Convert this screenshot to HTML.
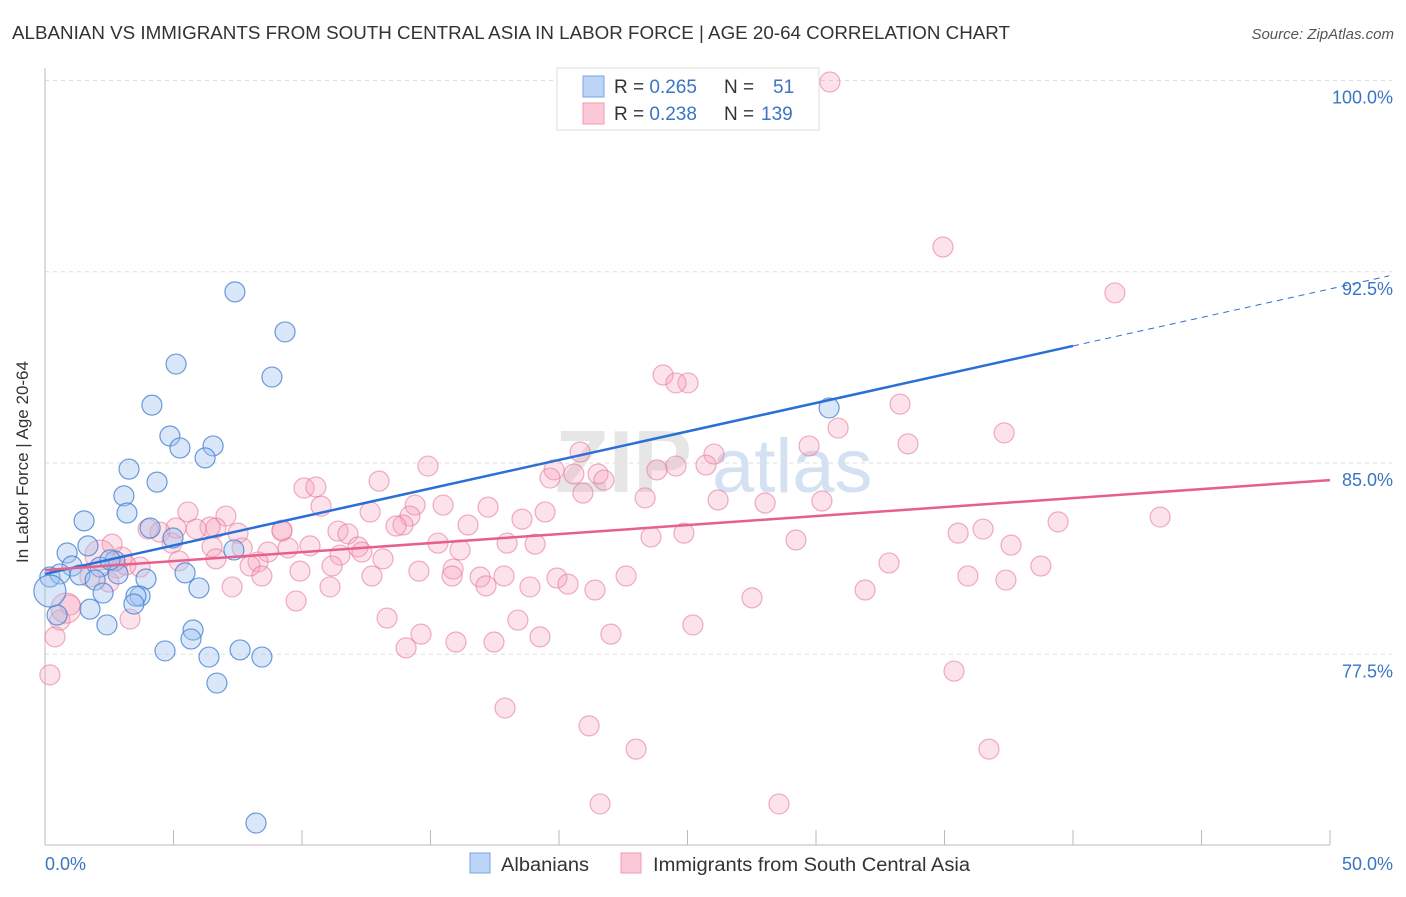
<!DOCTYPE html>
<html><head><meta charset="utf-8"><style>
body{margin:0;background:#fff;font-family:"Liberation Sans",sans-serif;}
svg text{font-family:"Liberation Sans",sans-serif;}
</style></head><body>
<svg id="chart" width="1406" height="892" xmlns="http://www.w3.org/2000/svg">
<text x="12" y="39" font-size="18" fill="#333" textLength="998" lengthAdjust="spacingAndGlyphs">ALBANIAN VS IMMIGRANTS FROM SOUTH CENTRAL ASIA IN LABOR FORCE | AGE 20-64 CORRELATION CHART</text>
<text x="1394" y="39" font-size="15" fill="#555" text-anchor="end" font-style="italic">Source: ZipAtlas.com</text>
<g id="grid"></g>
<g><text x="555" y="492" font-size="88" fill="#e6e6e6" font-family="Liberation Serif" font-weight="bold">ZIP</text><text x="712" y="492" font-size="76" fill="#d3e1f3">atlas</text></g>
<line x1="45" y1="68" x2="45" y2="845" stroke="#bbb"/>
<line x1="45" y1="845" x2="1330" y2="845" stroke="#bbb"/>
<g id="xticks"></g>
<g id="pink"></g>
<g id="blue"></g>
<g id="lines"></g>
<text x="24" y="458" font-size="17" fill="#333" transform="rotate(-90 28 458)" text-anchor="middle">In Labor Force | Age 20-64</text>
<text x="45" y="870" font-size="18" fill="#3a75c4">0.0%</text>
<text x="1393" y="870" font-size="18" fill="#3a75c4" text-anchor="end">50.0%</text>
<g>
<rect x="557" y="68" width="262" height="62" fill="#fff" stroke="#ddd"/>
<rect x="583" y="76" width="21" height="21" fill="#bcd4f5" stroke="#7aa6e4"/>
<rect x="583" y="103" width="21" height="21" fill="#fbc9d7" stroke="#f09ab3"/>
<text x="614" y="93" font-size="19" fill="#333">R = <tspan fill="#3a75c4">0.265</tspan><tspan x="724">N = </tspan><tspan x="773" fill="#3a75c4">51</tspan></text>
<text x="614" y="120" font-size="19" fill="#333">R = <tspan fill="#3a75c4">0.238</tspan><tspan x="724">N = </tspan><tspan x="761" fill="#3a75c4">139</tspan></text>
</g>
<g>
<rect x="470" y="853" width="20" height="20" fill="#bcd4f5" stroke="#7aa6e4"/>
<text x="501" y="871" font-size="19" fill="#333" textLength="88" lengthAdjust="spacingAndGlyphs">Albanians</text>
<rect x="621" y="853" width="20" height="20" fill="#fbc9d7" stroke="#f09ab3"/>
<text x="653" y="871" font-size="19" fill="#333" textLength="317" lengthAdjust="spacingAndGlyphs">Immigrants from South Central Asia</text>
</g>
</svg>
<script>
const yTicks=[100,92.5,85,77.5];
const xTickVals=[0,5,10,15,20,25,30,35,40,45,50];
const blueX=[7.39,9.34,5.10,8.83,4.16,4.86,5.25,6.54,6.23,3.27,4.36,3.07,3.19,1.52,4.09,1.67,0.86,7.35,4.98,2.72,1.05,2.14,0.19,1.36,0.58,2.84,3.93,5.45,1.95,2.26,5.99,3.70,3.54,1.75,3.46,0.47,2.41,5.76,5.68,4.67,6.38,7.59,8.44,6.69,8.21,30.51,0.19,2.53];
const blueY=[91.71,90.14,88.88,88.37,87.27,86.06,85.59,85.67,85.20,84.76,84.25,83.71,83.04,82.73,82.45,81.75,81.47,81.59,82.06,81.16,80.96,80.92,80.53,80.61,80.65,80.65,80.45,80.69,80.41,79.90,80.10,79.78,79.78,79.27,79.47,79.04,78.65,78.45,78.10,77.63,77.39,77.67,77.39,76.37,70.88,87.16,79.98,81.20];
const blueSize=[1,1,1,1,1,1,1,1,1,1,1,1,1,1,1,1,1,1,1,1,1,1,1,1,1,1,1,1,1,1,1,1,1,1,1,1,1,1,1,1,1,1,1,1,1,1,2,1];
const pinkX=[30.54,34.94,41.63,24.05,25.02,24.55,33.27,30.86,33.58,37.32,29.73,26.03,20.82,19.81,19.65,20.58,21.52,23.81,24.55,25.72,14.90,10.08,10.54,10.74,13.00,12.65,14.40,14.20,15.49,17.24,18.56,19.46,20.93,21.75,23.35,26.19,28.02,30.23,39.42,43.39,5.56,7.04,6.65,5.10,4.47,4.01,4.94,6.42,5.88,7.51,9.22,6.50,7.67,9.46,8.68,10.31,9.22,11.40,11.79,12.18,13.15,11.48,13.93,13.66,15.29,16.15,16.46,17.98,19.07,23.58,24.86,29.22,35.53,36.50,37.59,12.33,6.65,8.29,7.98,9.92,11.17,12.72,8.44,5.21,3.00,2.80,2.49,1.75,3.70,2.61,3.15,14.55,15.88,16.93,15.84,17.86,19.92,20.35,22.61,21.40,18.87,17.16,11.09,7.28,9.77,27.51,31.91,32.84,35.91,37.39,38.75,13.31,14.63,14.05,15.99,17.47,18.40,19.26,22.02,25.21,35.37,17.90,21.17,23.00,36.73,21.60,28.56,3.31,0.58,0.39,0.19,0.97,0.82,2.14];
const pinkY=[99.94,93.47,91.67,88.45,88.14,88.14,87.31,86.37,85.75,86.18,85.67,85.35,85.43,84.73,84.41,84.57,84.57,84.73,84.88,84.92,84.88,84.02,84.06,83.31,84.29,83.08,83.35,82.92,83.35,83.27,82.80,83.08,83.82,84.33,83.63,83.55,83.43,83.51,82.69,82.88,83.08,82.92,82.45,82.45,82.29,82.41,81.86,82.49,82.41,82.25,82.37,81.71,81.67,81.67,81.51,81.75,82.33,82.33,82.22,81.71,81.24,81.39,82.57,82.53,81.86,81.59,82.57,81.86,81.82,82.10,82.25,81.98,82.25,82.41,81.78,81.51,81.24,81.12,80.96,80.76,80.96,80.57,80.57,81.16,81.31,80.88,80.33,80.53,80.92,81.82,81.00,80.76,80.84,80.53,80.57,80.57,80.49,80.25,80.57,80.02,80.14,80.18,80.14,80.14,79.59,79.71,80.02,81.08,80.57,80.41,80.96,78.92,78.29,77.75,77.98,77.98,78.84,78.18,78.29,78.65,76.84,75.39,74.69,73.78,73.78,71.63,71.63,78.88,78.84,78.18,76.69,79.43,79.31,81.39];
const bigPink=[132,133,134];
const blueTrend=[80.65,0.2235];
const pinkTrend=[80.80,0.0706];

const NS="http://www.w3.org/2000/svg";
const X=v=>45+v*25.7;
const Y=v=>463-(v-85)*25.5;
function mk(tag,attrs,parent){const e=document.createElementNS(NS,tag);for(const k in attrs)e.setAttribute(k,attrs[k]);parent.appendChild(e);return e;}
const grid=document.getElementById('grid');
yTicks.forEach(t=>{
 const l=mk('line',{x1:45,x2:1392,y1:Y(t),y2:Y(t),stroke:'#ddd','stroke-dasharray':'4,4'},grid);
 
 
 const tx=mk('text',{x:1393,y:Y(t)+23,'font-size':18,fill:'#3a75c4','text-anchor':'end'},grid);
 tx.textContent=t.toFixed(1)+'%';
 
 
});
const xt=document.getElementById('xticks');
xTickVals.forEach(t=>{
 const l=mk('line',{x1:X(t),x2:X(t),y1:830,y2:845,stroke:'#bbb'},xt);
 
 
});
const pg=document.getElementById('pink');
pinkX.forEach((v,i)=>{
 const r=bigPink.includes(i)?15:10;
 const c=mk('circle',{cx:X(v),cy:Y(pinkY[i]),r:r,fill:'rgba(246,160,186,0.3)',stroke:'rgba(232,120,155,0.6)','stroke-width':1.2},pg);
 
 
});
const bg=document.getElementById('blue');
blueX.forEach((v,i)=>{
 const c=mk('circle',{cx:X(v),cy:Y(blueY[i]),r:blueSize[i]>1?16:10,fill:'rgba(160,196,240,0.4)',stroke:'rgba(70,130,210,0.8)','stroke-width':1.2},bg);
 
 
});
const lg=document.getElementById('lines');
const bl=mk('line',{x1:X(0),y1:Y(blueTrend[0]),x2:X(40),y2:Y(blueTrend[0]+40*blueTrend[1]),stroke:'#2a6fd6','stroke-width':2.5},lg);


const bd=mk('line',{x1:X(40),y1:Y(blueTrend[0]+40*blueTrend[1]),x2:X(52.3),y2:Y(blueTrend[0]+52.3*blueTrend[1]),stroke:'#2a6fd6','stroke-width':1,'stroke-dasharray':'6,5'},lg);


const pl=mk('line',{x1:X(0),y1:Y(pinkTrend[0]),x2:X(50),y2:Y(pinkTrend[0]+50*pinkTrend[1]),stroke:'#e5608c','stroke-width':2.5},lg);


</script>
</body></html>
